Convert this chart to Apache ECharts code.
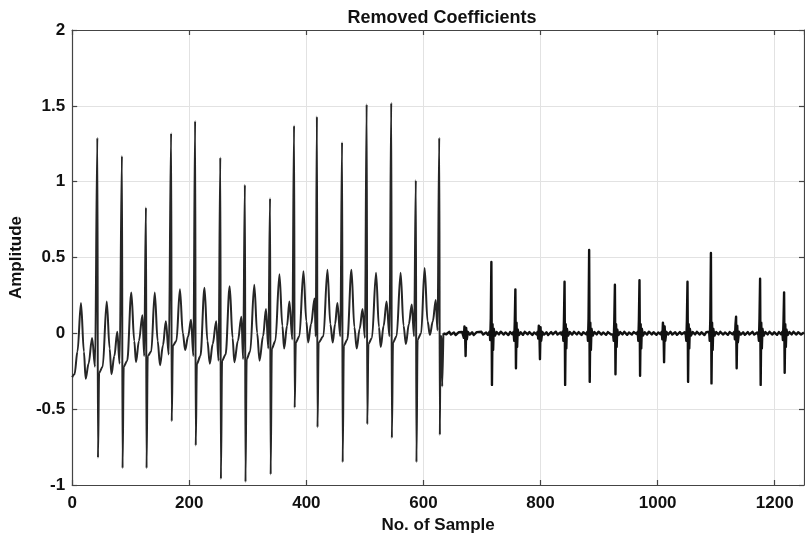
<!DOCTYPE html>
<html>
<head>
<meta charset="utf-8">
<script src="https://cdn.jsdelivr.net/npm/echarts@6/dist/echarts.min.js"></script>
<style>
html,body{margin:0;padding:0;background:#fff;}
#chart{width:805px;height:540px;}
</style>
</head>
<body>
<div id="chart"></div>
<script>
// Chart text
var chartTitle = 'Removed Coefficients';
var xName = 'No. of Sample';
var yName = 'Amplitude';
var xTicks = [0, 200, 400, 600, 800, 1000, 1200];
var yTicks = [-1, -0.5, 0, 0.5, 1, 1.5, 2];

// First part: ECG-like removed coefficients, vertices [sample, amplitude]
var ecgHead = [
  [0,-0.29],[4,-0.27],[9,-0.12],[15,0.20],[20,-0.12],[23,-0.30],[28,-0.20],[34,-0.03],[39,-0.22],
  [43,1.29],[44,-0.82],[46,-0.26],[52,-0.22],[59,0.21],[64,-0.10],[67,-0.27],[72,-0.15],[77,0.01],[81,-0.20],
  [85,1.17],[86,-0.89],[88,-0.22],[94,-0.18],[101,0.27],[106,-0.05],[109,-0.19],[114,-0.05],[120,0.12],[123,-0.15],
  [126,0.83],[127,-0.89],[129,-0.15],[135,-0.12],[141,0.27],[146,-0.05],[150,-0.21],[155,-0.08],[160,0.08],[165,-0.14],
  [169,1.32],[170,-0.58],[172,-0.08],[178,-0.05],[184,0.29],[189,0.0],[193,-0.11],[198,-0.02],[203,0.09],[207,-0.15],
  [210,1.40],[211,-0.74],[213,-0.20],[219,-0.15],[226,0.30],[231,-0.05],[235,-0.20],[240,-0.07],[246,0.08],[250,-0.18],
  [253,1.16],[254,-0.96],[256,-0.18],[262,-0.14],[269,0.31],[274,-0.03],[277,-0.19],[283,-0.05],[289,0.11],[292,-0.17],
  [295,0.98],[296,-0.98],[298,-0.17],[304,-0.12],[311,0.32],[316,0.0],[320,-0.18],[326,-0.02],[331,0.16],[335,-0.10],
  [338,0.89],[339,-0.93],[341,-0.10],[347,-0.05],[354,0.39],[359,0.05],[362,-0.10],[367,0.05],[371,0.21],[376,-0.04],
  [379,1.37],[380,-0.49],[382,-0.06],[388,-0.02],[395,0.41],[400,0.08],[403,-0.06],[408,0.06],[414,0.23],[416,-0.02],
  [418,1.43],[419,-0.62],[421,-0.06],[429,-0.02],[436,0.42],[441,0.06],[445,-0.06],[449,0.06],[453,0.20],[458,-0.02],
  [461,1.26],[462,-0.85],[464,-0.08],[470,-0.04],[477,0.42],[482,0.04],[486,-0.10],[491,0.03],[496,0.16],[500,-0.03],
  [503,1.51],[504,-0.60],[506,-0.07],[512,-0.03],[519,0.40],[524,0.04],[527,-0.09],[532,0.05],[537,0.21],[542,-0.02],
  [545,1.52],[546,-0.69],[548,-0.06],[554,-0.02],[561,0.40],[566,0.05],[570,-0.07],[575,0.06],[580,0.19],[584,-0.02],
  [587,1.01],[588,-0.85],[590,-0.04],[596,0.0],[602,0.43],[607,0.08],[611,-0.01],[616,0.08],[621,0.22],[624,0.02],
  [627,1.29],[628,-0.67],[629,-0.02],[631,-0.02],[632,-0.35],[634,0.0]
];

// Second part: near-zero residual with sharp spikes, vertices [sample, amplitude]
var ecgTail = [
  [634,0.0],[636,0.008],[639,-0.006],[644,0.01],[647,-0.008],[652,0.005],[655,-0.011],[660,0.007],[663,-0.004],[666,0.009],
  [668,0.01],[669,-0.03],[670,0.045],[671,0.02],[672,-0.15],[673,0.035],[674,-0.04],[676,0.01],
  [679,-0.008],[683,0.007],[686,-0.011],[691,0.008],[694,-0.004],[699,0.01],[702,-0.008],[707,0.006],[710,-0.01],
  [713,0.012],[714,-0.045],[715,0.10],[716,0.47],[717,-0.34],[718,0.06],[719,-0.11],[720,0.03],[722,-0.015],
  [725,0.008],[729,-0.007],[732,0.011],[737,-0.008],[740,0.006],[745,-0.011],[748,0.008],[752,-0.006],
  [754,0.01],[755,-0.05],[756,0.08],[757,0.29],[758,-0.23],[759,0.07],[760,-0.09],[761,0.025],[763,-0.012],
  [766,0.007],[770,-0.01],[773,0.01],[778,-0.006],[781,0.008],[786,-0.011],[789,0.006],[793,-0.007],
  [795,0.01],[796,-0.035],[797,0.05],[798,0.02],[799,-0.17],[800,0.04],[801,-0.05],[803,0.01],
  [806,-0.008],[810,0.007],[813,-0.011],[818,0.008],[821,-0.006],[826,0.011],[829,-0.008],[834,0.006],[836,-0.008],
  [838,0.012],[839,-0.05],[840,0.09],[841,0.34],[842,-0.34],[843,0.06],[844,-0.10],[845,0.03],[847,-0.015],
  [850,0.008],[854,-0.008],[857,0.01],[862,-0.007],[865,0.008],[870,-0.011],[873,0.007],[878,-0.006],
  [880,0.01],[881,-0.05],[882,0.10],[883,0.55],[884,-0.32],[885,0.07],[886,-0.11],[887,0.03],[889,-0.015],
  [892,0.008],[896,-0.007],[899,0.011],[904,-0.008],[907,0.006],[912,-0.01],[915,0.008],[920,-0.006],[922,0.007],
  [924,-0.01],[925,-0.05],[926,0.09],[927,0.32],[928,-0.27],[929,0.06],[930,-0.09],[931,0.025],[933,-0.012],
  [936,0.008],[940,-0.007],[943,0.01],[948,-0.01],[951,0.006],[956,-0.008],[959,0.008],[964,-0.005],
  [966,0.01],[967,-0.05],[968,0.09],[969,0.35],[970,-0.28],[971,0.06],[972,-0.10],[973,0.03],[975,-0.014],
  [978,0.007],[982,-0.008],[985,0.011],[990,-0.007],[993,0.007],[998,-0.01],[1001,0.006],[1005,-0.006],
  [1007,0.01],[1008,-0.04],[1009,0.07],[1010,0.03],[1011,-0.19],[1012,0.045],[1013,-0.05],[1015,0.01],
  [1018,-0.007],[1022,0.01],[1025,-0.008],[1030,0.007],[1033,-0.01],[1038,0.008],[1041,-0.006],[1046,0.007],
  [1048,-0.01],[1049,-0.05],[1050,0.09],[1051,0.34],[1052,-0.32],[1053,0.06],[1054,-0.10],[1055,0.03],[1057,-0.014],
  [1060,0.008],[1064,-0.007],[1067,0.01],[1072,-0.008],[1075,0.007],[1080,-0.011],[1083,0.008],[1086,-0.005],
  [1088,0.01],[1089,-0.05],[1090,0.10],[1091,0.53],[1092,-0.33],[1093,0.07],[1094,-0.11],[1095,0.03],[1097,-0.015],
  [1100,0.008],[1104,-0.007],[1107,0.01],[1112,-0.008],[1115,0.006],[1120,-0.01],[1123,0.008],[1128,-0.006],
  [1131,0.01],[1132,-0.04],[1133,0.06],[1134,0.11],[1135,-0.23],[1136,0.05],[1137,-0.06],[1139,0.01],
  [1142,-0.008],[1146,0.007],[1149,-0.01],[1154,0.008],[1157,-0.007],[1162,0.01],[1165,-0.008],[1170,0.006],
  [1172,-0.01],[1173,-0.05],[1174,0.10],[1175,0.36],[1176,-0.34],[1177,0.07],[1178,-0.10],[1179,0.03],[1181,-0.015],
  [1184,0.008],[1188,-0.007],[1191,0.01],[1196,-0.008],[1199,0.007],[1204,-0.01],[1207,0.008],[1211,-0.006],
  [1213,0.01],[1214,-0.045],[1215,0.08],[1216,0.27],[1217,-0.26],[1218,0.06],[1219,-0.09],[1220,0.025],[1222,-0.012],
  [1225,0.008],[1229,-0.007],[1232,0.01],[1237,-0.008],[1240,0.007],[1245,-0.008],[1250,0.006]
];

var FONT = '"Liberation Sans", Arial, Helvetica, sans-serif';
var xMin = xTicks[0], xMax = 1250, xStep = xTicks[1] - xTicks[0];
var yMin = yTicks[0], yMax = yTicks[yTicks.length - 1], yStep = yTicks[1] - yTicks[0];

var chart = echarts.init(document.getElementById('chart'), null, {renderer: 'canvas'});

var axisLineStyle = {color: '#444444', width: 1.2};
var gridLineStyle = {color: '#e2e2e2', width: 1};
function plainNum(v) { return String(v); }

chart.setOption({
  animation: false,
  backgroundColor: '#ffffff',
  title: {
    text: chartTitle,
    left: 437,
    textAlign: 'center',
    top: 4,
    textStyle: {fontFamily: FONT, fontWeight: 'bold', fontSize: 18, color: '#111'}
  },
  grid: {left: 70, right: 1, top: 30, bottom: 55, containLabel: false},
  xAxis: [{
    type: 'value', min: xMin, max: xMax, interval: xStep, position: 'bottom',
    name: xName, nameLocation: 'middle', nameGap: 27,
    nameTextStyle: {fontFamily: FONT, fontWeight: 'bold', fontSize: 17, color: '#111'},
    axisLine: {show: true, onZero: false, lineStyle: axisLineStyle},
    axisTick: {show: true, inside: true, length: 5, lineStyle: axisLineStyle},
    axisLabel: {fontFamily: FONT, fontWeight: 'bold', fontSize: 17, color: '#111', margin: 10, showMaxLabel: false, formatter: plainNum},
    splitLine: {show: true, lineStyle: gridLineStyle}
  }, {
    type: 'value', min: xMin, max: xMax, interval: xStep, position: 'top',
    axisLine: {show: true, onZero: false, lineStyle: axisLineStyle},
    axisTick: {show: true, inside: true, length: 5, lineStyle: axisLineStyle},
    axisLabel: {show: false},
    splitLine: {show: false}
  }],
  yAxis: [{
    type: 'value', min: yMin, max: yMax, interval: yStep, position: 'left',
    name: yName, nameLocation: 'middle', nameGap: 41,
    nameTextStyle: {fontFamily: FONT, fontWeight: 'bold', fontSize: 17, color: '#111'},
    axisLine: {show: true, onZero: false, lineStyle: axisLineStyle},
    axisTick: {show: true, inside: true, length: 5, lineStyle: axisLineStyle},
    axisLabel: {fontFamily: FONT, fontWeight: 'bold', fontSize: 17, color: '#111', margin: 7, formatter: plainNum},
    splitLine: {show: true, lineStyle: gridLineStyle}
  }, {
    type: 'value', min: yMin, max: yMax, interval: yStep, position: 'right',
    axisLine: {show: true, onZero: false, lineStyle: axisLineStyle},
    axisTick: {show: true, inside: true, length: 5, lineStyle: axisLineStyle},
    axisLabel: {show: false},
    splitLine: {show: false}
  }],
  series: [{
    type: 'line', name: 'head', data: ecgHead, xAxisIndex: 0, yAxisIndex: 0,
    showSymbol: false, symbol: 'none',
    smooth: 0.35, smoothMonotone: 'x',
    lineStyle: {color: '#262626', width: 2.0, join: 'round'},
    z: 3
  }, {
    type: 'line', name: 'tail', data: ecgTail, xAxisIndex: 0, yAxisIndex: 0,
    showSymbol: false, symbol: 'none',
    lineStyle: {color: '#111111', width: 2.4, join: 'round'},
    z: 3
  }]
});
</script>
</body>
</html>
